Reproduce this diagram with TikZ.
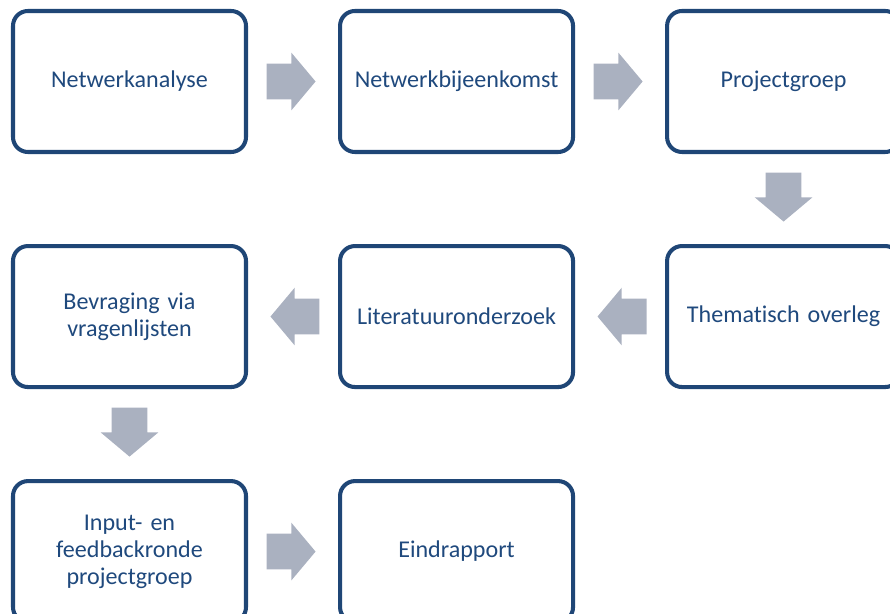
\documentclass[tikz,border=0pt]{standalone}
\usepackage{fontspec}
\setmainfont[Ligatures=NoCommon]{Carlito}
\usepackage{xcolor}
\usepackage{tikz}
\usetikzlibrary{shapes.arrows, positioning, calc}
\definecolor{boxblue}{RGB}{31, 70, 118}
\definecolor{textblue}{RGB}{31, 73, 125}
\definecolor{arrowgray}{RGB}{170, 177, 192}

\tikzset{
    stepbox/.style={draw=boxblue, line width=2.3pt, rounded corners=8.5pt, fill=white,
          minimum width=4.66cm, minimum height=2.82cm, text width=4.3cm, align=center,
          text=textblue, font=\fontsize{13.7}{15.4}\selectfont},
    flowarrow/.style={single arrow, fill=arrowgray, draw=none, inner xsep=0pt, inner ysep=0.35cm,
          minimum height=0.98cm, single arrow head extend=0.22cm,
          single arrow tip angle=100, anchor=tip}
}

\begin{document}
\begin{tikzpicture}[node distance=1.8cm]
    \clip (0,0) rectangle (17.8,-12.28);
    \node[stepbox] (analyse) at (2.59,-1.63) {Netwerkanalyse};
    \node[stepbox, right=of analyse] (bijeenkomst) {Netwerkbijeenkomst};
    \node[stepbox, right=of bijeenkomst] (projectgroep) {Projectgroep};
    \node[stepbox, below=of projectgroep] (overleg) {Thematisch overleg};
    \node[stepbox, left=of overleg] (literatuur) {Literatuuronderzoek};
    \node[stepbox, left=of literatuur] (bevraging) {Bevraging via\\vragenlijsten};
    \node[stepbox, below=of bevraging] (feedback) {Input- en\\feedbackronde\\projectgroep};
    \node[stepbox, right=of feedback] (eindrapport) {Eindrapport};

    \foreach \from/\to/\dir in {analyse/bijeenkomst/0, bijeenkomst/projectgroep/0,
        projectgroep/overleg/-90, overleg/literatuur/180, literatuur/bevraging/180,
        bevraging/feedback/-90, feedback/eindrapport/0}
        \node[flowarrow, rotate=\dir] at ($(\from)!0.5!(\to)!0.46cm!(\to)$) {};
\end{tikzpicture}
\end{document}
